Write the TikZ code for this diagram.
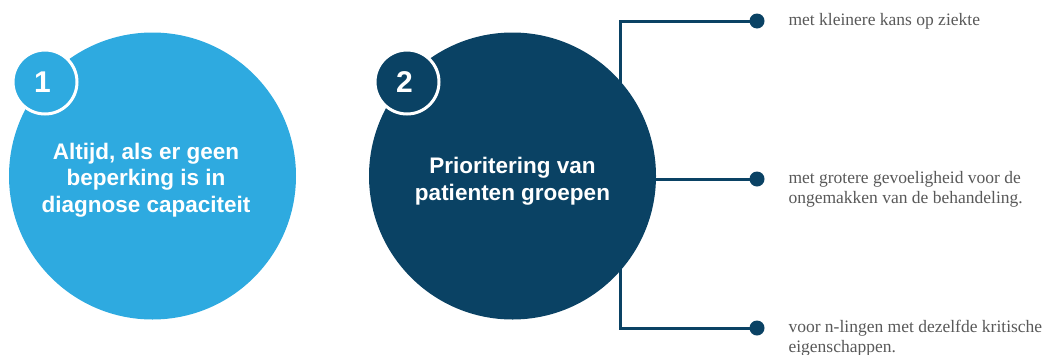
\documentclass[tikz,border=0pt]{standalone}
\usepackage{fontspec}
\setmainfont{Liberation Serif}
\newfontfamily\headfont{Liberation Sans}
\usetikzlibrary{calc}
\definecolor{stepblue}{HTML}{2EAAE0}
\definecolor{stepnavy}{HTML}{0A4264}
\definecolor{notegray}{HTML}{595959}
\tikzset{
	bigdisc/.style={circle, minimum size=287pt, inner sep=0pt},
	disctext/.style={align=center, text=white, font=\headfont\bfseries\fontsize{22.5}{26.5}\selectfont},
	numdisc/.style={circle, minimum size=64pt, inner sep=0pt, draw=white, line width=3pt, text=white, font=\headfont\bfseries\fontsize{30}{30}\selectfont},
	pindot/.style={circle, fill=stepnavy, minimum size=15pt, inner sep=0pt},
	note/.style={anchor=base west, align=left, text=notegray, font=\fontsize{17.5}{20}\selectfont},
	link/.style={draw=stepnavy, line width=3pt}
}

\begin{document}
\begin{tikzpicture}[x=1pt, y=-1pt]
			%%%%% START %%%%%
			\useasboundingbox (0, 0) rectangle (1050, 354);
			
			\node[pindot] (d1) at (757, 21) {};
			\node[pindot] (d2) at (757, 179) {};
			\node[pindot] (d3) at (757, 328) {};
			\coordinate (t1) at (620, 21);
			\coordinate (t3) at (620, 328);
			\draw[link] (d1.center) -- (t1) -- (t3) -- (d3.center);
			
			\node[bigdisc, fill=stepblue] (c1) at (152.5, 176) {};
			\node[disctext] (c1txt) at ($(c1.center)+(-6.5, 4)$) {Altijd, als er geen\\beperking is in\\diagnose capaciteit};
			\node[numdisc, fill=stepblue] (n1) at (45, 82) {\kern-5pt1};
			
			\node[bigdisc, fill=stepnavy] (c2) at (512.5, 176) {};
			\node[disctext] (c2txt) at ($(c2.center)+(0, 5)$) {Prioritering van\\patienten groepen};
			\node[numdisc, fill=stepnavy] (n2) at (407, 82) {\kern-5pt2};
			\draw[link] (c2.east |- d2) -- (d2.center);
			
			% last baseline of each note
			\node[note] (m1) at (785, 25) {met kleinere kans op ziekte};
			\node[note] (m2) at (785, 203) {met grotere gevoeligheid voor de\\ongemakken van de behandeling.};
			\node[note] (m3) at (785, 352) {voor n-lingen met dezelfde kritische\\eigenschappen.};
			
			%%%%% END %%%%%
\end{tikzpicture}
\end{document}
